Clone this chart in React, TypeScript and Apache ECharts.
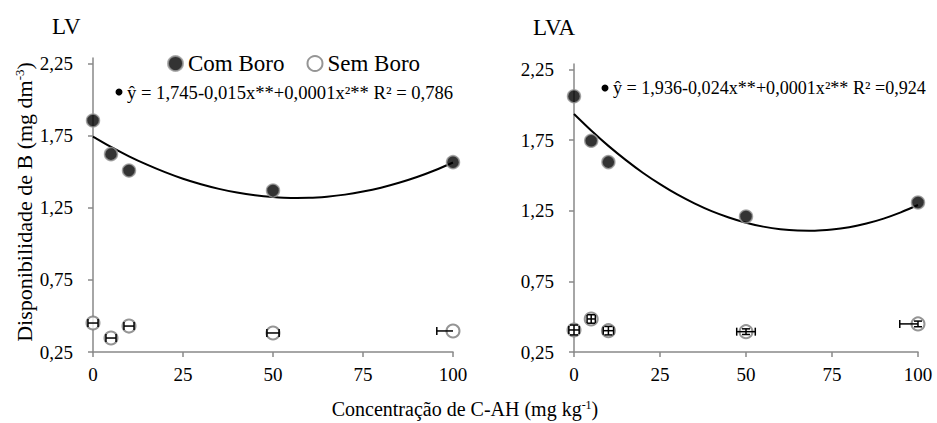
import React, { useEffect, useRef } from "react";
import * as echarts from "echarts";

const FONT = "Liberation Serif, Times New Roman, serif";

// doses of C-AH (mg kg-1)
const doses = [0, 5, 10, 50, 100];
// LV panel
const lvCom = [1.856, 1.623, 1.509, 1.37, 1.567];
const lvSem = [0.451, 0.347, 0.43, 0.382, 0.396];
const lvSemErrXLow = [1.4, 1.4, 1.4, 1.7, 4.5];
const lvSemErrXHigh = [1.4, 1.4, 1.4, 1.7, 0];
const lvSemErrY = [0, 0, 0, 0, 0];
// LVA panel
const lvaCom = [2.061, 1.746, 1.595, 1.21, 1.309];
const lvaSem = [0.406, 0.484, 0.401, 0.394, 0.449];
const lvaSemErrXLow = [1.5, 1.2, 1.5, 2.7, 5.3];
const lvaSemErrXHigh = [1.5, 1.2, 1.5, 2.7, 0];
const lvaSemErrY = [0.035, 0.03, 0.03, 0.02, 0.02];
// fitted curves
const trendX = [0, 5, 10, 15, 20, 25, 30, 35, 40, 45, 50, 55, 60, 65, 70, 75, 80, 85, 90, 95, 100];
const lvTrend = [
  1.745, 1.673, 1.608, 1.55, 1.498, 1.452, 1.414, 1.382, 1.356, 1.337, 1.325,
  1.319, 1.32, 1.328, 1.342, 1.363, 1.39, 1.424, 1.464, 1.511, 1.565,
];
const lvaTrend = [
  1.936, 1.819, 1.71, 1.611, 1.52, 1.439, 1.366, 1.303, 1.248, 1.203, 1.166,
  1.138, 1.119, 1.11, 1.109, 1.117, 1.134, 1.16, 1.195, 1.239, 1.291,
];
// axis ticks
const xTicks = { min: 0, max: 100, interval: 25 };
const yTickValues = [0.25, 0.75, 1.25, 1.75, 2.25];
// texts
const panelTitles = ["LV", "LVA"];
const legendNames = ["Com Boro", "Sem Boro"];
const equations = [
  "ŷ = 1,745-0,015x**+0,0001x²** R² = 0,786",
  "ŷ = 1,936-0,024x**+0,0001x²** R² =0,924",
];

const pairs = (xs: number[], ys: number[]) => xs.map((x, i) => [x, ys[i]]);

const AXIS_COLOR = "#898989";

function xAxis(gridIndex: number) {
  return {
    type: "value",
    gridIndex,
    min: xTicks.min,
    max: xTicks.max,
    interval: xTicks.interval,
    axisLine: { show: true, lineStyle: { color: AXIS_COLOR, width: 1.5 } },
    axisTick: { show: true, length: 5, lineStyle: { color: AXIS_COLOR, width: 1.5 } },
    axisLabel: { fontSize: 19, fontFamily: FONT, color: "#000", margin: 13 },
    splitLine: { show: false },
  };
}

function yAxis(gridIndex: number) {
  return {
    type: "value",
    gridIndex,
    min: 0.25,
    max: 2.29,
    interval: 0.5,
    axisLine: { show: true, onZero: false, lineStyle: { color: AXIS_COLOR, width: 1.5 } },
    axisTick: {
      show: true,
      length: 5,
      customValues: yTickValues,
      lineStyle: { color: AXIS_COLOR, width: 1.5 },
    },
    axisLabel: {
      fontSize: 19,
      fontFamily: FONT,
      color: "#000",
      margin: 20,
      customValues: yTickValues,
      formatter: (v: number) => v.toFixed(2).replace(".", ","),
    },
    splitLine: { show: false },
  };
}

function errorSeries(idx: number, ys: number[], xl: number[], xh: number[], ye: number[]) {
  return {
    type: "custom",
    xAxisIndex: idx,
    yAxisIndex: idx,
    z: 10,
    silent: true,
    data: doses.map((x, i) => [x, ys[i], xl[i], xh[i], ye[i]]),
    renderItem: (params: any, api: any) => {
      const x = api.value(0);
      const y = api.value(1);
      const lo = api.value(2);
      const hi = api.value(3);
      const e = api.value(4);
      const c = api.coord([x, y]);
      const style = { stroke: "#000", lineWidth: 1.5 };
      const cap = 4;
      const children: any[] = [];
      if (lo > 0 || hi > 0) {
        const a = api.coord([x - lo, y]);
        const b = api.coord([x + hi, y]);
        children.push({ type: "line", shape: { x1: a[0], y1: c[1], x2: b[0], y2: c[1] }, style });
        children.push({ type: "line", shape: { x1: a[0], y1: c[1] - cap, x2: a[0], y2: c[1] + cap }, style });
        if (hi > 0)
          children.push({ type: "line", shape: { x1: b[0], y1: c[1] - cap, x2: b[0], y2: c[1] + cap }, style });
      }
      if (e > 0) {
        const t = api.coord([x, y + e]);
        const d = api.coord([x, y - e]);
        children.push({ type: "line", shape: { x1: c[0], y1: t[1], x2: c[0], y2: d[1] }, style });
        children.push({ type: "line", shape: { x1: c[0] - cap, y1: t[1], x2: c[0] + cap, y2: t[1] }, style });
        children.push({ type: "line", shape: { x1: c[0] - cap, y1: d[1], x2: c[0] + cap, y2: d[1] }, style });
      }
      return { type: "group", children };
    },
  };
}

const comStyle = { color: "#000", borderColor: "#9a9a9a", borderWidth: 1.5 };
const semStyle = { color: "#fff", borderColor: "#7a7a7a", borderWidth: 2 };

function trendSeries(idx: number, ys: number[]) {
  return {
    name: "trend-" + idx,
    type: "line",
    xAxisIndex: idx,
    yAxisIndex: idx,
    data: pairs(trendX, ys),
    smooth: 0.3,
    showSymbol: false,
    symbol: "none",
    lineStyle: { color: "#000", width: 2 },
    z: 3,
    silent: true,
  };
}

function scatterSeries(idx: number, name: string, ys: number[], style: any) {
  return {
    name,
    type: "scatter",
    xAxisIndex: idx,
    yAxisIndex: idx,
    symbolSize: 13,
    itemStyle: style,
    data: pairs(doses, ys),
    z: 5,
  };
}

export default function App() {
  const ref = useRef<HTMLDivElement>(null);
  useEffect(() => {
    if (!ref.current) return;
    const chart = echarts.init(ref.current, undefined, { renderer: "svg" });
    const option: any = {
      animation: false,
      backgroundColor: "#fff",
      textStyle: { fontFamily: FONT },
      grid: [
        { left: 93, top: 58, width: 360, height: 294 },
        { left: 574, top: 64, width: 344, height: 288 },
      ],
      xAxis: [xAxis(0), xAxis(1)],
      yAxis: [yAxis(0), yAxis(1)],
      legend: {
        data: legendNames,
        left: 162,
        top: 47,
        icon: "circle",
        itemWidth: 15,
        itemHeight: 15,
        itemGap: 22,
        textStyle: { fontSize: 23, fontFamily: FONT, color: "#000" },
      },
      series: [
        trendSeries(0, lvTrend),
        trendSeries(1, lvaTrend),
        scatterSeries(0, legendNames[0], lvCom, comStyle),
        scatterSeries(1, legendNames[0], lvaCom, comStyle),
        scatterSeries(0, legendNames[1], lvSem, semStyle),
        scatterSeries(1, legendNames[1], lvaSem, semStyle),
        errorSeries(0, lvSem, lvSemErrXLow, lvSemErrXHigh, lvSemErrY),
        errorSeries(1, lvaSem, lvaSemErrXLow, lvaSemErrXHigh, lvaSemErrY),
      ],
      graphic: [
        {
          type: "text",
          x: 52,
          y: 26,
          style: { text: panelTitles[0], fontSize: 23, fontFamily: FONT, fill: "#000", align: "left", verticalAlign: "middle" },
        },
        {
          type: "text",
          x: 533,
          y: 27,
          style: { text: panelTitles[1], fontSize: 23, fontFamily: FONT, fill: "#000", align: "left", verticalAlign: "middle" },
        },
        { type: "circle", shape: { cx: 119, cy: 92, r: 3.5 }, style: { fill: "#000" } },
        {
          type: "text",
          x: 127,
          y: 92,
          style: { text: equations[0], fontSize: 18.6, fontFamily: FONT, fill: "#000", align: "left", verticalAlign: "middle" },
        },
        { type: "circle", shape: { cx: 605, cy: 88, r: 3.5 }, style: { fill: "#000" } },
        {
          type: "text",
          x: 613,
          y: 88,
          style: { text: equations[1], fontSize: 18.1, fontFamily: FONT, fill: "#000", align: "left", verticalAlign: "middle" },
        },
        {
          type: "text",
          x: 24,
          y: 202,
          rotation: Math.PI / 2,
          style: {
            text: "Disponibilidade de B (mg dm{sup|-3})",
            fontSize: 22,
            fontFamily: FONT,
            fill: "#000",
            align: "center",
            verticalAlign: "middle",
            rich: { sup: { fontSize: 13, fontFamily: FONT, verticalAlign: "top", lineHeight: 22 } },
          },
        },
        {
          type: "text",
          x: 465,
          y: 409,
          style: {
            text: "Concentração de C-AH (mg kg{sup|-1})",
            fontSize: 20,
            fontFamily: FONT,
            fill: "#000",
            align: "center",
            verticalAlign: "middle",
            rich: { sup: { fontSize: 12, fontFamily: FONT, verticalAlign: "top", lineHeight: 20 } },
          },
        },
      ],
    };
    chart.setOption(option);
    return () => chart.dispose();
  }, []);
  return (
    <div
      ref={ref}
      style={{ position: "fixed", left: 0, top: 0, width: 937, height: 423, background: "#fff" }}
    />
  );
}
